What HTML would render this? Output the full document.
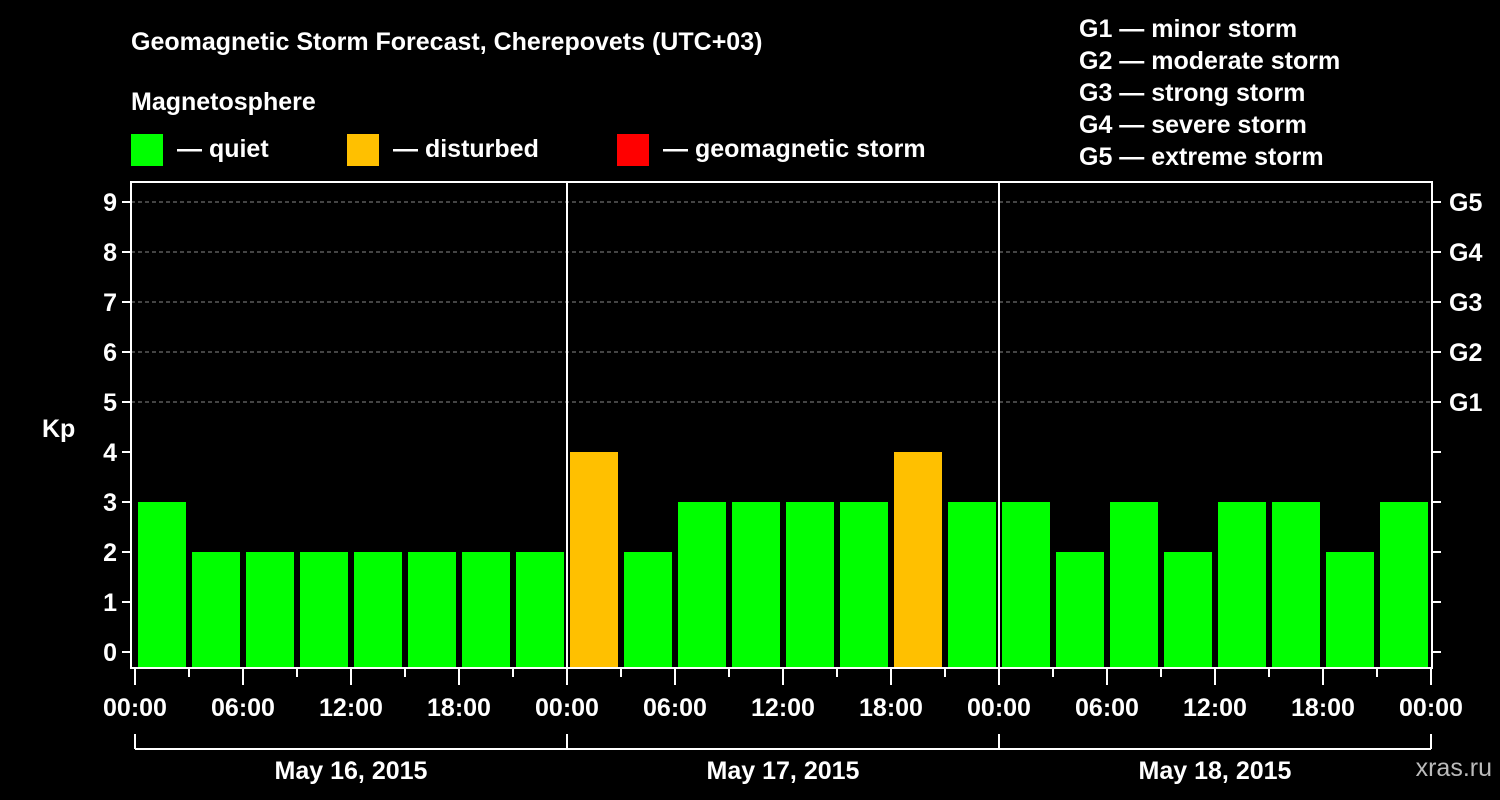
<!DOCTYPE html>
<html><head><meta charset="utf-8"><style>
html,body{margin:0;padding:0;background:#000;}
svg{display:block;font-family:"Liberation Sans",Arial,sans-serif;font-weight:bold;}
</style></head><body>
<svg id="chart" width="1500" height="800" viewBox="0 0 1500 800">
<rect x="0" y="0" width="1500" height="800" fill="#000"/>
<text x="131" y="50" fill="#fff" font-size="25">Geomagnetic Storm Forecast, Cherepovets (UTC+03)</text>
<text x="131" y="110" fill="#fff" font-size="25">Magnetosphere</text>
<g><rect x="131" y="134" width="32" height="32" fill="#00ff00"/><text x="177" y="157" fill="#fff" font-size="25">— quiet</text></g>
<g><rect x="347" y="134" width="32" height="32" fill="#ffc000"/><text x="393" y="157" fill="#fff" font-size="25">— disturbed</text></g>
<g><rect x="617" y="134" width="32" height="32" fill="#ff0000"/><text x="663" y="157" fill="#fff" font-size="25">— geomagnetic storm</text></g>
<g font-size="25" fill="#fff">
<text x="1079" y="37">G1 — minor storm</text>
<text x="1079" y="69">G2 — moderate storm</text>
<text x="1079" y="101">G3 — strong storm</text>
<text x="1079" y="133">G4 — severe storm</text>
<text x="1079" y="165">G5 — extreme storm</text>
</g>
<text x="42" y="437" fill="#fff" font-size="25">Kp</text>
<text x="1492" y="776" fill="#bbb" font-size="25" font-weight="normal" text-anchor="end">xras.ru</text>
<g id="plot"></g>
</svg>
<script>
const days = ["May 16, 2015","May 17, 2015","May 18, 2015"];
const kpValues = [3,2,2,2,2,2,2,2, 4,2,3,3,3,3,4,3, 3,2,3,2,3,3,2,3];
const yTicks = [0,1,2,3,4,5,6,7,8,9];
const gLabels = ["G1","G2","G3","G4","G5"];
const hourLabels = ["00:00","06:00","12:00","18:00"];

const NS="http://www.w3.org/2000/svg";
const plot=document.getElementById("plot");
const X0=135, DAYW=432, BAR=54;
const yS=v=>652-50*v;
const xS=i=>X0+i*BAR;
function mk(t,a,p){const e=document.createElementNS(NS,t);for(const k in a)e.setAttribute(k,a[k]);(p||plot).appendChild(e);return e;}
function col(v){return v>=5?"#ff0000":(v>=4?"#ffc000":"#00ff00");}

// grid lines
for(let v=5;v<=9;v++){
  const l=mk("line",{x1:131,x2:1432,y1:yS(v),y2:yS(v),stroke:"#888","stroke-dasharray":"4,3","stroke-width":1});
  
  
}
// bars
kpValues.forEach((v,i)=>{
  const r=mk("rect",{x:xS(i)+3,y:yS(v),width:48,height:668-yS(v),fill:col(v)});
  
  
});
// frame
const fr=mk("rect",{x:131,y:182,width:1301,height:486,fill:"none",stroke:"#fff","stroke-width":2});


// day separators
for(let d=1;d<days.length;d++){
  const l=mk("line",{x1:X0+d*DAYW,x2:X0+d*DAYW,y1:182,y2:668,stroke:"#fff","stroke-width":2});
  
  
}
// y ticks
yTicks.forEach(v=>{
  mk("line",{x1:122,x2:131,y1:yS(v),y2:yS(v),stroke:"#fff","stroke-width":2});
  mk("line",{x1:1432,x2:1441,y1:yS(v),y2:yS(v),stroke:"#fff","stroke-width":2});
  const t=mk("text",{x:117,y:yS(v)+9,fill:"#fff","font-size":25,"text-anchor":"end"});
  t.textContent=v;
  
  
});
gLabels.forEach((g,i)=>{
  const t=mk("text",{x:1449,y:yS(5+i)+9,fill:"#fff","font-size":25});
  t.textContent=g;
  
  
});
// x ticks
for(let i=0;i<=kpValues.length;i++){
  const major=i%2===0;
  mk("line",{x1:xS(i),x2:xS(i),y1:668,y2:major?685:677,stroke:"#fff","stroke-width":2});
  if(major){
    const t=mk("text",{x:xS(i),y:716,fill:"#fff","font-size":25,"text-anchor":"middle"});
    t.textContent=hourLabels[(i/2)%4];
    
    
  }
}
// day brackets
mk("line",{x1:X0,x2:X0+days.length*DAYW,y1:749,y2:749,stroke:"#fff","stroke-width":2});
for(let d=0;d<=days.length;d++) mk("line",{x1:X0+d*DAYW,x2:X0+d*DAYW,y1:734,y2:749,stroke:"#fff","stroke-width":2});
days.forEach((d,i)=>{
  const t=mk("text",{x:X0+i*DAYW+DAYW/2,y:779,fill:"#fff","font-size":25,"text-anchor":"middle"});
  t.textContent=d;
  
  
});
</script>
</body></html>
